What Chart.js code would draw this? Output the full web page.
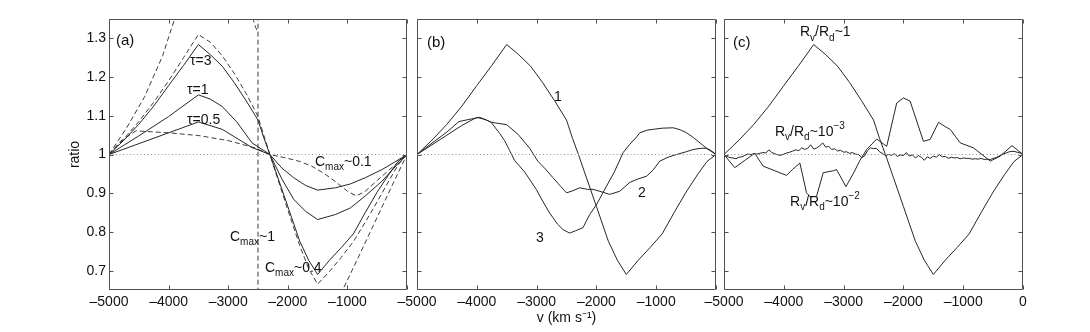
<!DOCTYPE html>
<html>
<head>
<meta charset="utf-8">
<title>ratio profiles</title>
<script src="https://cdn.jsdelivr.net/npm/chart.js@4.4.1/dist/chart.umd.min.js"></script>
<style>
  html, body { margin: 0; padding: 0; background: #fff; }
  #wrap { position: relative; width: 1090px; height: 332px; }
  #wrap canvas { position: absolute; left: 0; top: 0; }
</style>
</head>
<body>
<div id="wrap">
  <canvas id="panel-a" width="1090" height="332" style="width:1090px;height:332px"></canvas>
  <canvas id="panel-b" width="1090" height="332" style="width:1090px;height:332px"></canvas>
  <canvas id="panel-c" width="1090" height="332" style="width:1090px;height:332px"></canvas>
</div>
<script>
// ---- axes ----
const vTicks = [-5000, -4000, -3000, -2000, -1000, 0];
const ratioTicks = [0.7, 0.8, 0.9, 1, 1.1, 1.2, 1.3];
const refV = [-5000, 0];
const refRatio = [1, 1];

// ---- curve "1" (tau=3, same in b and c as Rv/Rd~1) ----
const curve1V = [-5000, -4750, -4500, -4250, -4000, -3750, -3500, -3300, -3100, -2900, -2700, -2500, -2400, -2300, -2200, -2000, -1800, -1650, -1500, -1300, -1100, -900, -700, -500, -300, -150, 0];
const curve1Ratio = [1.000, 1.037, 1.078, 1.125, 1.178, 1.230, 1.284, 1.258, 1.228, 1.186, 1.139, 1.089, 1.042, 1.000, 0.955, 0.866, 0.776, 0.727, 0.690, 0.727, 0.760, 0.795, 0.850, 0.903, 0.950, 0.982, 1.000];

// ---- panel (a) ----
const tau1V = [-5000, -4500, -4000, -3500, -3300, -3100, -2850, -2600, -2300, -2100, -1900, -1700, -1500, -1200, -950, -700, -420, -200, 0];
const tau1Ratio = [1.000, 1.048, 1.098, 1.154, 1.143, 1.124, 1.083, 1.030, 1.000, 0.937, 0.884, 0.853, 0.832, 0.845, 0.862, 0.893, 0.931, 0.968, 1.000];

const tau05V = [-5000, -4500, -4000, -3500, -3100, -2600, -2300, -2100, -1900, -1700, -1500, -1200, -950, -700, -420, -200, 0];
const tau05Ratio = [1.000, 1.028, 1.056, 1.084, 1.065, 1.018, 1.000, 0.965, 0.940, 0.920, 0.908, 0.914, 0.924, 0.940, 0.961, 0.981, 1.000];

const cmax04V = [-5000, -4750, -4500, -4250, -4000, -3750, -3500, -3300, -3100, -2900, -2700, -2500, -2400, -2300, -2200, -2000, -1800, -1650, -1500, -1300, -1100, -900, -700, -500, -300, -150, 0];
const cmax04Ratio = [1.000, 1.040, 1.085, 1.135, 1.190, 1.250, 1.310, 1.290, 1.255, 1.210, 1.158, 1.098, 1.048, 1.000, 0.952, 0.857, 0.765, 0.705, 0.665, 0.698, 0.735, 0.775, 0.825, 0.878, 0.933, 0.973, 1.000];

const cmax01V = [-5000, -4800, -4550, -4000, -3500, -3000, -2550, -2300, -2000, -1800, -1600, -1400, -1200, -1000, -850, -700, -500, -300, -150, 0];
const cmax01Ratio = [1.000, 1.035, 1.061, 1.056, 1.049, 1.036, 1.017, 1.000, 0.990, 0.982, 0.970, 0.952, 0.930, 0.905, 0.893, 0.905, 0.933, 0.960, 0.980, 1.000];

const cmax1LeftV = [-5000, -4700, -4400, -4100, -3900, -3700, -3300, -2900, -2700, -2600, -2540, -2500];
const cmax1LeftRatio = [1.000, 1.070, 1.150, 1.255, 1.350, 1.440, 1.560, 1.520, 1.430, 1.360, 1.328, 1.315];
const cmax1JumpV = [-2500, -2500];
const cmax1JumpRatio = [1.40, 0.60];
const cmax1RightV = [-1400, -1100, -800, -500, -250, 0];
const cmax1RightRatio = [0.545, 0.643, 0.740, 0.838, 0.920, 1.000];

// ---- panel (b) ----
const curve2V = [-5000, -4700, -4500, -4300, -4150, -3950, -3750, -3500, -3310, -3120, -2980, -2850, -2726, -2600, -2500, -2400, -2280, -2150, -2057, -1900, -1780, -1610, -1440, -1300, -1160, -1050, -940, -800, -660, -500, -380, -250, -157, -80, 0];
const curve2Ratio = [1.000, 1.035, 1.058, 1.085, 1.090, 1.096, 1.083, 1.077, 1.052, 1.017, 0.983, 0.962, 0.940, 0.918, 0.901, 0.906, 0.914, 0.910, 0.910, 0.903, 0.897, 0.905, 0.928, 0.937, 0.944, 0.960, 0.983, 0.993, 1.000, 1.007, 1.013, 1.016, 1.016, 1.010, 1.000];

const curve3V = [-5000, -4700, -4500, -4250, -4000, -3850, -3760, -3620, -3536, -3450, -3370, -3200, -3006, -2900, -2782, -2650, -2559, -2447, -2350, -2224, -2112, -2000, -1832, -1700, -1553, -1450, -1330, -1274, -1150, -1050, -900, -715, -600, -492, -380, -268, -150, 0];
const curve3Ratio = [1.000, 1.030, 1.050, 1.075, 1.096, 1.090, 1.083, 1.055, 1.036, 1.010, 0.985, 0.955, 0.910, 0.880, 0.849, 0.820, 0.806, 0.797, 0.803, 0.811, 0.845, 0.870, 0.918, 0.955, 1.005, 1.025, 1.045, 1.056, 1.063, 1.065, 1.068, 1.069, 1.064, 1.056, 1.044, 1.030, 1.015, 1.000];

// ---- panel (c) ----
const rv2V = [-5000, -4821, -4650, -4486, -4346, -4150, -3955, -3850, -3731, -3620, -3550, -3452, -3341, -3173, -3117, -2961, -2840, -2726, -2614, -2446, -2279, -2112, -2000, -1888, -1665, -1553, -1413, -1300, -1218, -1050, -827, -547, -380, -184, 0];
const rv2Ratio = [1.000, 0.966, 0.985, 1.003, 0.970, 0.958, 0.946, 0.962, 0.978, 0.901, 0.890, 0.892, 0.953, 0.958, 0.961, 0.917, 0.950, 0.985, 1.013, 1.040, 1.021, 1.133, 1.146, 1.138, 1.034, 1.039, 1.083, 1.072, 1.065, 1.030, 1.017, 0.983, 0.996, 1.023, 1.000];

const rv3V = [-5000, -4950, -4900, -4850, -4800, -4750, -4700, -4650, -4600, -4550, -4500, -4450, -4400, -4350, -4300, -4250, -4200, -4150, -4100, -4050,
  -4000, -3950, -3900, -3850, -3800, -3750, -3700, -3650, -3600, -3550, -3500, -3450, -3400, -3350, -3300, -3250, -3200, -3150, -3100, -3050,
  -3000, -2950, -2900, -2850, -2800, -2750, -2700, -2650, -2600, -2550, -2500, -2450, -2400, -2350, -2300, -2250, -2200, -2150, -2100, -2050,
  -2000, -1950, -1900, -1850, -1800, -1750, -1700, -1650, -1600, -1550, -1500, -1450, -1400, -1350, -1300, -1250, -1200, -1150, -1100, -1050,
  -1000, -950, -900, -850, -800, -750, -700, -650, -600, -550, -500, -450, -400, -350, -300, -250, -200, -150, -100, -50, 0];
const rv3Ratio = [1.000, 0.995, 0.992, 0.991, 0.989, 0.993, 0.994, 0.998, 1.001, 1.000, 1.002, 1.001, 1.003, 1.005, 1.004, 1.012, 1.005, 1.002, 0.999, 0.998,
  1.001, 1.004, 1.006, 1.009, 1.012, 1.010, 1.017, 1.013, 1.016, 1.025, 1.014, 1.017, 1.022, 1.030, 1.019, 1.021, 1.013, 1.015, 1.009, 1.011,
  1.006, 1.007, 1.003, 1.005, 1.001, 1.000, 0.992, 0.996, 1.010, 1.017, 1.015, 1.016, 1.007, 1.003, 0.997, 1.000, 0.998, 1.002, 0.995, 0.999,
  0.997, 1.005, 0.996, 0.999, 0.991, 0.997, 0.993, 0.985, 0.994, 0.990, 0.996, 0.993, 1.000, 0.994, 0.995, 0.990, 0.993, 0.991, 0.992, 0.989,
  0.991, 0.990, 0.990, 0.988, 0.989, 0.988, 0.990, 0.987, 0.988, 0.987, 0.990, 0.992, 0.996, 1.000, 1.003, 1.006, 1.008, 1.008, 1.006, 1.004, 1.000];

// ---- drawing helpers ----
const FONT = '"Liberation Sans", Arial, Helvetica, sans-serif';
const INK = '#262626';
const DASH_INK = '#3c3c3c';
const Y_AXIS_W = 50;

const pts = (vs, rs) => vs.map((v, i) => ({ x: v, y: rs[i] }));
const solid = (vs, rs) => ({ data: pts(vs, rs), borderColor: INK, borderWidth: 1, pointRadius: 0, tension: 0, fill: false });
const dashed = (vs, rs) => ({ ...solid(vs, rs), borderColor: DASH_INK, borderDash: [5, 3] });
const refLine = () => ({ data: pts(refV, refRatio), borderColor: '#8c8c8c', borderWidth: 1, borderDash: [1, 2.5], pointRadius: 0 });

function drawRich(ctx, x, y, parts, size) {
  let cx = x;
  parts.forEach(([text, kind]) => {
    const fs = kind ? Math.round(size * 0.72) : size;
    ctx.font = fs + 'px ' + FONT;
    const dy = kind === 'sub' ? size * 0.4 : kind === 'sup' ? -size * 0.4 : 0;
    ctx.fillText(text, cx, y + dy);
    cx += ctx.measureText(text).width;
  });
}

// box, inward ticks and the labels inside each panel
const panelDecor = {
  id: 'panelDecor',
  afterDatasetsDraw(chart, args, opts) {
    const { ctx, chartArea: a, scales: { x, y } } = chart;
    const L = Math.round(a.left) + 0.5, R = Math.round(a.right) - 0.5;
    const T = Math.round(a.top) + 0.5, B = Math.round(a.bottom) - 0.5;
    ctx.save();
    ctx.strokeStyle = '#505050';
    ctx.lineWidth = 1;
    ctx.beginPath();
    ctx.rect(L, T, R - L, B - T);
    vTicks.forEach(v => {
      const px = Math.round(x.getPixelForValue(v)) + 0.5;
      ctx.moveTo(px, B); ctx.lineTo(px, B - 4);
      ctx.moveTo(px, T); ctx.lineTo(px, T + 4);
    });
    ratioTicks.forEach(r => {
      const py = Math.round(y.getPixelForValue(r)) + 0.5;
      ctx.moveTo(L, py); ctx.lineTo(L + 4, py);
      ctx.moveTo(R, py); ctx.lineTo(R - 4, py);
    });
    ctx.stroke();

    ctx.fillStyle = '#111';
    ctx.textBaseline = 'middle';
    ctx.textAlign = 'left';
    (opts.notes || []).forEach(n => {
      drawRich(ctx, x.getPixelForValue(n.v), y.getPixelForValue(n.r), n.parts, n.size || 14);
    });
    ctx.restore();
  }
};

const fmtV = v => (v < 0 ? '\u2013' + Math.abs(v) : String(v));

function makePanel(id, left, right, datasets, notes, extra) {
  const withY = !!extra.yTitle;
  return new Chart(document.getElementById(id), {
    type: 'line',
    data: { datasets },
    options: {
      responsive: false,
      animation: false,
      events: [],
      // the y axis always keeps Y_AXIS_W, even when it is hidden
      layout: { padding: { left: left - Y_AXIS_W, right: 1090 - right, top: 19, bottom: 0 } },
      plugins: {
        legend: { display: false },
        tooltip: { enabled: false },
        panelDecor: { notes }
      },
      scales: {
        x: {
          type: 'linear',
          min: -5000,
          max: 0,
          afterBuildTicks: s => { s.ticks = vTicks.map(v => ({ value: v })); },
          afterFit: s => { s.height = 42; s.paddingLeft = 0; s.paddingRight = 0; },
          grid: { display: false, drawTicks: false },
          border: { display: false },
          ticks: {
            padding: 4,
            color: '#111',
            font: { family: FONT, size: 14 },
            maxRotation: 0,
            autoSkip: false,
            callback: v => (v === 0 && !extra.zeroLabel ? '' : fmtV(v))
          },
          title: {
            display: !!extra.xTitle,
            text: extra.xTitle || '',
            color: '#111',
            font: { family: FONT, size: 14 },
            padding: { top: 0, bottom: 5 }
          }
        },
        y: {
          type: 'linear',
          min: 0.65,
          max: 1.35,
          afterBuildTicks: s => { s.ticks = ratioTicks.map(r => ({ value: r })); },
          afterFit: s => { s.width = Y_AXIS_W; s.paddingTop = 0; s.paddingBottom = 0; },
          grid: { display: false, drawTicks: false },
          border: { display: false },
          ticks: {
            display: withY,
            padding: 3,
            color: '#111',
            font: { family: FONT, size: 14 },
            callback: r => String(+r.toFixed(1))
          },
          title: {
            display: withY,
            text: extra.yTitle || '',
            color: '#111',
            font: { family: FONT, size: 14 },
            padding: { top: 8, bottom: 0 }
          }
        }
      }
    },
    plugins: [panelDecor]
  });
}

// (a) tau and Cmax curves
makePanel('panel-a', 109, 407, [
  refLine(),
  solid(curve1V, curve1Ratio),
  solid(tau1V, tau1Ratio),
  solid(tau05V, tau05Ratio),
  dashed(cmax04V, cmax04Ratio),
  dashed(cmax01V, cmax01Ratio),
  dashed(cmax1LeftV, cmax1LeftRatio),
  dashed(cmax1JumpV, cmax1JumpRatio),
  dashed(cmax1RightV, cmax1RightRatio)
], [
  { v: -4883, r: 1.293, parts: [['(a)']], size: 15 },
  { v: -3640, r: 1.242, parts: [['\u03c4=3']] },
  { v: -3690, r: 1.167, parts: [['\u03c4=1']] },
  { v: -3690, r: 1.089, parts: [['\u03c4=0.5']] },
  { v: -1544, r: 0.981, parts: [['C'], ['max', 'sub'], ['~0.1']] },
  { v: -2970, r: 0.787, parts: [['C'], ['max', 'sub'], ['~1']] },
  { v: -2383, r: 0.707, parts: [['C'], ['max', 'sub'], ['~0.4']] }
], { yTitle: 'ratio' });

// (b) three models
makePanel('panel-b', 417, 716, [
  refLine(),
  solid(curve1V, curve1Ratio),
  solid(curve2V, curve2Ratio),
  solid(curve3V, curve3Ratio)
], [
  { v: -4833, r: 1.288, parts: [['(b)']], size: 15 },
  { v: -2709, r: 1.148, parts: [['1']] },
  { v: -1304, r: 0.900, parts: [['2']] },
  { v: -3010, r: 0.784, parts: [['3']] }
], { xTitle: 'v (km s\u207b\u00b9)' });

// (c) Rv/Rd
makePanel('panel-c', 724, 1023, [
  refLine(),
  solid(curve1V, curve1Ratio),
  solid(rv2V, rv2Ratio),
  solid(rv3V, rv3Ratio)
], [
  { v: -4850, r: 1.288, parts: [['(c)']], size: 15 },
  { v: -3729, r: 1.316, parts: [['R'], ['v', 'sub'], ['/R'], ['d', 'sub'], ['~1']] },
  { v: -4147, r: 1.058, parts: [['R'], ['v', 'sub'], ['/R'], ['d', 'sub'], ['~10'], ['\u22123', 'sup']] },
  { v: -3896, r: 0.877, parts: [['R'], ['v', 'sub'], ['/R'], ['d', 'sub'], ['~10'], ['\u22122', 'sup']] }
], { zeroLabel: true });
</script>
</body>
</html>
